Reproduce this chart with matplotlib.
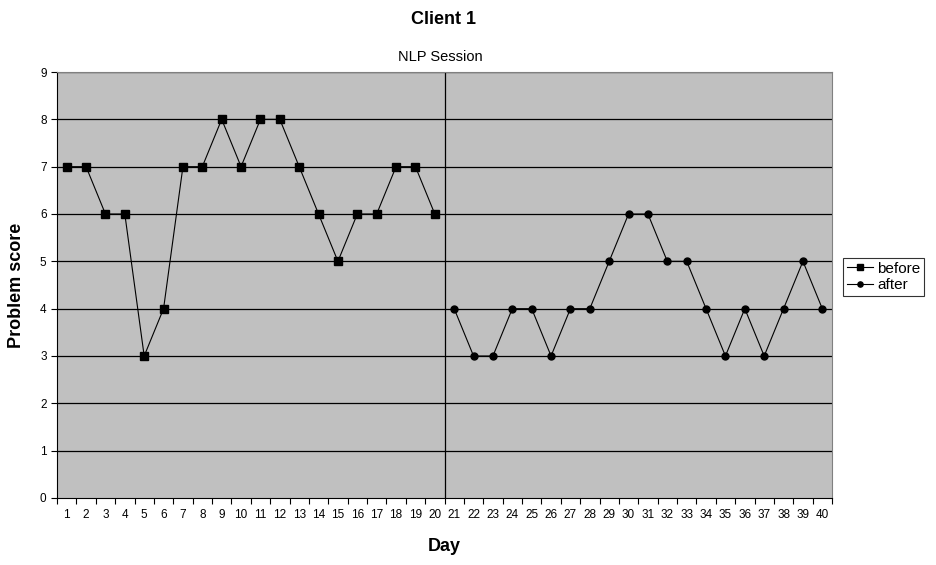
import matplotlib.pyplot as plt
import numpy as np

plt.rcParams['font.family'] = ['Liberation Sans', 'DejaVu Sans']

# values
days_before = np.arange(1, 21)
before = [7, 7, 6, 6, 3, 4, 7, 7, 8, 7, 8, 8, 7, 6, 5, 6, 6, 7, 7, 6]
days_after = np.arange(21, 41)
after = [4, 3, 3, 4, 4, 3, 4, 4, 5, 6, 6, 5, 5, 4, 3, 4, 3, 4, 5, 4]
session_day = 20.5

fig = plt.figure(figsize=(9.37, 5.65), dpi=100)
ax = fig.add_axes([57 / 937, 1 - 498 / 565, (832 - 57) / 937, (498 - 72) / 565])
ax.set_facecolor('#C0C0C0')

for y in range(1, 10):
    ax.axhline(y, color='black', lw=0.9, zorder=1)
ax.axvline(session_day, color='black', lw=0.9, zorder=1)

ax.plot(days_before, before, color='black', lw=0.8, marker='s', ms=5.5,
        label='before', zorder=3)
ax.plot(days_after, after, color='black', lw=0.8, marker='o', ms=5,
        label='after', zorder=3)

ax.set_xlim(0.5, 40.5)
ax.set_ylim(0, 9)
ax.set_yticks(range(0, 10))
ax.set_xticks(np.arange(0.5, 41, 1))
ax.set_xticklabels([])
ax.set_xticks(np.arange(1, 41), minor=True)
ax.set_xticklabels([str(d) for d in range(1, 41)], minor=True)
ax.tick_params(axis='x', which='major', length=4, width=0.8, direction='out')
ax.tick_params(axis='x', which='minor', length=0, labelsize=8.5, pad=8)
ax.tick_params(axis='y', length=4, width=0.8, labelsize=8.5)

ax.spines['left'].set_color('black')
ax.spines['bottom'].set_color('black')
ax.spines['top'].set_color('#808080')
ax.spines['right'].set_color('#808080')

ax.set_xlabel('Day', fontsize=13, fontweight='bold', labelpad=12)
ax.set_ylabel('Problem score', fontsize=13, fontweight='bold', labelpad=11)

fig.text(444 / 937, 1 - 19 / 565, 'Client 1', ha='center', va='center',
         fontsize=13, fontweight='bold')
fig.text(440 / 937, 1 - 57 / 565, 'NLP Session', ha='center', va='center',
         fontsize=10.5)

leg = ax.legend(loc='upper left', bbox_to_anchor=(843 / 937, 1 - 258 / 565),
                bbox_transform=fig.transFigure, fontsize=11,
                frameon=True, fancybox=False, edgecolor='black',
                handlelength=1.7, handletextpad=0.3, borderpad=0.25,
                labelspacing=0.15, borderaxespad=0, markerscale=0.75)
leg.get_frame().set_linewidth(0.8)

fig.savefig('out.png', dpi=100)
